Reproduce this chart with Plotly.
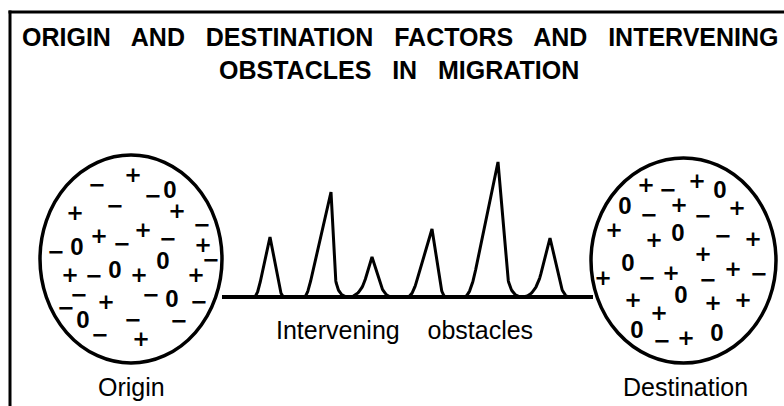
import numpy as np
import plotly.graph_objects as go

# ---------------- data (diagram units: x in px-like units, y = height above the baseline) ----
title_lines = ["ORIGIN   AND   DESTINATION   FACTORS   AND   INTERVENING",
               "OBSTACLES   IN   MIGRATION"]
region_names = ["Origin", "Destination"]
obstacle_label = "Intervening    obstacles"

# obstacles (peaks along the path)
obstacle_apex_x = [270, 331, 372, 432, 498, 550]
obstacle_height = [60, 105, 40, 68, 135, 59]
obstacle_left_foot = [257, 307, 360, 412, 470, 535]
obstacle_left_base = [254, 304, 348, 407, 464, 522]
obstacle_left_knee = [0.25, 0.15, 0.45, 0.2, 0.2, 0.4]
obstacle_right_foot = [281, 336, 384, 442, 509, 563]
obstacle_right_base = [284, 348, 392, 446, 522, 569]
obstacle_right_knee = [0.25, 0.25, 0.4, 0.25, 0.2, 0.3]

# areas of origin and destination (ellipse bounds)
region_x0 = [40, 591]
region_x1 = [222, 776]
region_y0 = [-66, -66]
region_y1 = [142, 139]
path_x = [222, 593]

# factors at origin: + attracting, − repelling, 0 neutral
origin_sym = ['+', '−', '−', '0', '+', '−', '+', '−', '+', '+', '−', '+', '−', '0', '−', '0', '−',
              '+', '−', '0', '+', '+', '−', '+', '−', '0', '−', '−', '0', '−', '−', '−', '+']
origin_x = [133, 97, 153, 170, 75, 115, 177, 202, 143, 99, 168, 203, 56, 77, 122, 163, 211,
            70, 94, 115, 139, 196, 79, 106, 151, 172, 199, 66, 83, 133, 179, 100, 141]
origin_y = [120, 110, 99, 105, 82, 89, 84, 70, 65, 59, 56, 50, 43, 48, 51, 34, 35,
            20, 19, 25, 20, 20, 0, -7, 0, -4, -7, -13, -25, -25, -26, -40, -44]

dest_sym = ['+', '−', '+', '0', '0', '−', '+', '−', '+', '+', '+', '0', '−', '+', '+', '0',
            '−', '+', '+', '−', '−', '+', '+', '0', '+', '+', '+', '0', '−', '+', '0']
dest_x = [646, 668, 697, 720, 625, 649, 679, 703, 737, 614, 654, 678, 723, 753, 703, 628,
          647, 671, 733, 759, 708, 603, 633, 681, 713, 743, 659, 637, 662, 686, 717]
dest_y = [110, 105, 114, 105, 89, 80, 90, 79, 87, 65, 55, 62, 59, 56, 41, 32,
          17, 22, 26, 21, 15, 17, -5, 0, -8, -5, -18, -35, -46, -43, -38]

INK = "#000000"
FONT = "Liberation Sans, Arial, sans-serif"
SIGN_FONT = "DejaVu Sans, Liberation Sans, sans-serif"


def side(ax, h, foot, base, f, n=24):
    """points from the base (on the path) up to the apex"""
    kx = foot + (ax - foot) * f
    ky = f * h
    t = np.linspace(0, 1, n)
    bx = (1 - t) ** 2 * base + 2 * (1 - t) * t * foot + t ** 2 * kx
    by = t ** 2 * ky
    return list(bx) + [ax], list(by) + [h]


fig = go.Figure()

# path between origin and destination
fig.add_trace(go.Scatter(x=path_x, y=[0, 0], mode="lines",
                         line=dict(color=INK, width=4), hoverinfo="skip", showlegend=False))

# obstacles
for i in range(len(obstacle_apex_x)):
    lx, ly = side(obstacle_apex_x[i], obstacle_height[i], obstacle_left_foot[i],
                  obstacle_left_base[i], obstacle_left_knee[i])
    rx, ry = side(obstacle_apex_x[i], obstacle_height[i], obstacle_right_foot[i],
                  obstacle_right_base[i], obstacle_right_knee[i])
    xs = lx + rx[::-1][1:]
    ys = ly + ry[::-1][1:]
    fig.add_trace(go.Scatter(x=xs, y=ys, mode="lines", line=dict(color=INK, width=3),
                             hoverinfo="skip", showlegend=False))

# factor symbols
all_x = origin_x + dest_x
all_y = origin_y + dest_y
all_s = origin_sym + dest_sym
for group, fam, size in [(['+', '−'], SIGN_FONT, 21), (['0'], FONT, 24)]:
    idx = [k for k, s in enumerate(all_s) if s in group]
    fig.add_trace(go.Scatter(x=[all_x[k] for k in idx], y=[all_y[k] for k in idx],
                             text=[all_s[k] for k in idx], mode="text",
                             textposition="middle center",
                             textfont=dict(family=fam, size=size, color=INK, weight="bold"),
                             hoverinfo="skip", showlegend=False))

shapes = []
for i in range(2):
    shapes.append(dict(type="circle", xref="x", yref="y", x0=region_x0[i], x1=region_x1[i],
                       y0=region_y0[i], y1=region_y1[i], line=dict(color=INK, width=3.5)))
# frame
shapes.append(dict(type="line", xref="x", yref="y", x0=10, x1=10, y0=-115, y1=286.5,
                   line=dict(color=INK, width=3)))
shapes.append(dict(type="line", xref="x", yref="y", x0=8.5, x1=790, y0=285, y1=285,
                   line=dict(color=INK, width=3)))

annotations = [
    dict(x=400, y=260, text=title_lines[0], showarrow=False, xanchor="center", yanchor="middle",
         font=dict(family=FONT, size=25, color=INK, weight="bold")),
    dict(x=399, y=227, text=title_lines[1], showarrow=False, xanchor="center", yanchor="middle",
         font=dict(family=FONT, size=25, color=INK, weight="bold")),
    dict(x=404, y=-33, text=obstacle_label, showarrow=False, xanchor="center", yanchor="middle",
         font=dict(family=FONT, size=25, color=INK)),
    dict(x=(region_x0[0] + region_x1[0]) / 2, y=-90, text=region_names[0], showarrow=False,
         xanchor="center", yanchor="middle", font=dict(family=FONT, size=25, color=INK)),
    dict(x=(region_x0[1] + region_x1[1]) / 2 + 2, y=-90, text=region_names[1], showarrow=False,
         xanchor="center", yanchor="middle", font=dict(family=FONT, size=25, color=INK)),
]
for a in annotations:
    a["xref"] = "x"
    a["yref"] = "y"

fig.update_layout(
    width=784, height=406,
    margin=dict(l=0, r=0, t=0, b=0),
    paper_bgcolor="white", plot_bgcolor="white",
    xaxis=dict(range=[0, 784], visible=False, fixedrange=True),
    yaxis=dict(range=[-109, 297], visible=False, fixedrange=True),
    shapes=shapes, annotations=annotations,
    showlegend=False, hovermode=False,
)

fig.write_html(
    "out.html",
    config={"displayModeBar": False, "staticPlot": True},
    post_script="document.body.style.margin='0';document.body.style.padding='0';"
                "document.documentElement.style.overflow='hidden';",
)
